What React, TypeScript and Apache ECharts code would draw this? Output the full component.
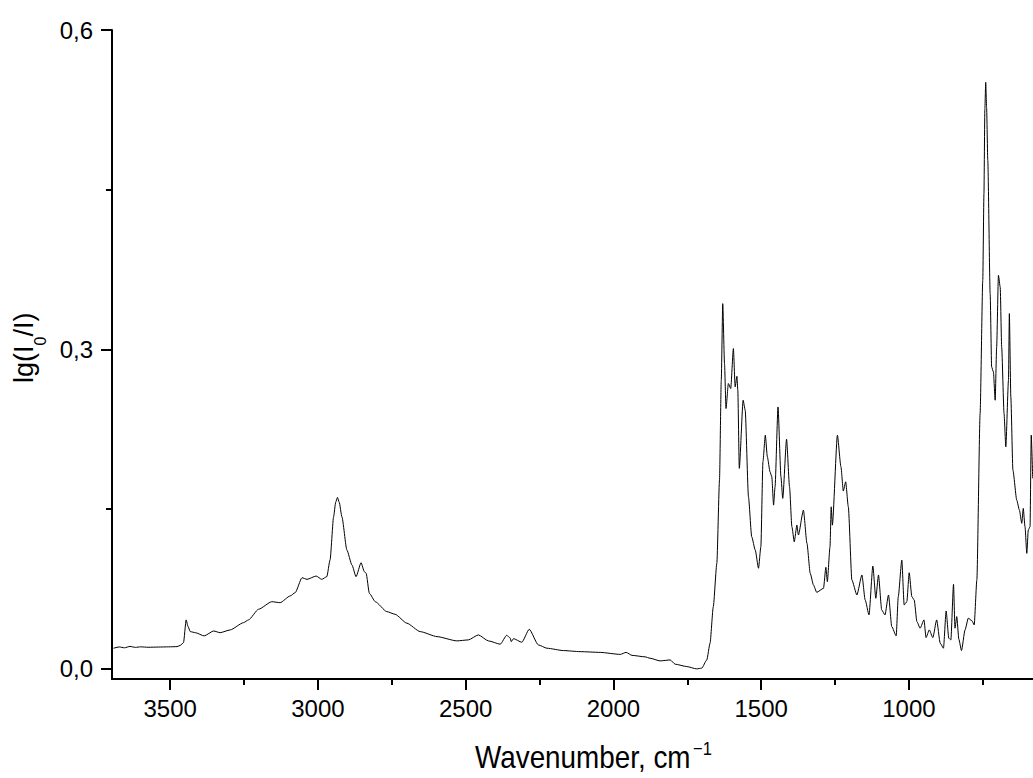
import React, { useEffect, useRef } from "react";
import * as echarts from "echarts";

// Wavenumber (cm^-1), descending
const wavenumbers = [
  3692, 3672, 3655, 3636, 3618, 3600, 3575, 3540, 3505, 3477, 3465, 3455, 3446, 3440, 3432,
  3415, 3385, 3353, 3331, 3297, 3252, 3235, 3201, 3156, 3128, 3094, 3077, 3054, 3037, 3006,
  2987, 2970, 2959, 2947, 2940, 2934, 2928, 2919, 2902, 2885, 2871, 2854, 2843, 2837, 2826, 2806, 2767,
  2739, 2699, 2654, 2597, 2530, 2491, 2457, 2423, 2383, 2361, 2349, 2346, 2338, 2310, 2285,
  2254, 2225, 2169, 2113, 2045, 1977, 1957, 1937, 1893, 1876, 1842, 1808, 1791, 1752, 1718,
  1701, 1684, 1673, 1662, 1650, 1641, 1635, 1630, 1624, 1619, 1611, 1603, 1594, 1588, 1582,
  1579, 1574, 1561, 1554, 1543, 1532, 1520, 1509, 1501, 1494, 1486, 1479, 1470, 1464, 1458,
  1453, 1443, 1433, 1427, 1414, 1404, 1396, 1388, 1379, 1374, 1357, 1345, 1334, 1323, 1312,
  1289, 1281, 1276, 1267, 1263, 1259, 1242, 1230, 1222, 1214, 1205, 1193, 1176, 1159, 1148,
  1135, 1122, 1112, 1103, 1092, 1081, 1069, 1058, 1043, 1036, 1024, 1016, 1007, 999, 990,
  982, 973, 962, 949, 942, 931, 919, 906, 894, 883, 874, 865, 858, 849, 844,
  838, 831, 822, 810, 799, 787, 779, 770, 759, 750, 746, 743, 740, 737, 733, 725, 720,
  714, 708, 703, 697, 691, 686, 678, 672, 663, 660, 655, 648, 635, 626, 618,
  613, 607, 601, 596, 590, 586, 581,
];

// lg(I0/I)
const absorbance = [
  0.0194, 0.0206, 0.0198, 0.0211, 0.0202, 0.0207, 0.0203, 0.0205, 0.0207, 0.0209, 0.0222, 0.0247, 0.046, 0.04, 0.035,
  0.034, 0.031, 0.0356, 0.034, 0.0366, 0.0434, 0.046, 0.056, 0.0631, 0.0622, 0.0685, 0.0716, 0.0856, 0.0841, 0.0872,
  0.0841, 0.0866, 0.1023, 0.1429, 0.1565, 0.161, 0.1565, 0.1429, 0.1116, 0.0976, 0.0866, 0.0997, 0.0913, 0.0898, 0.071, 0.0631, 0.0538,
  0.0513, 0.0429, 0.035, 0.0303, 0.0263, 0.0272, 0.0319, 0.0263, 0.0232, 0.0316, 0.0288, 0.0256, 0.0284, 0.025, 0.0372,
  0.0225, 0.0194, 0.0172, 0.0162, 0.0155, 0.0136, 0.0155, 0.0127, 0.0113, 0.01, 0.0075, 0.0084, 0.0044, 0.0022, 0.0,
  0.0007, 0.0084, 0.0241, 0.0584, 0.0991, 0.1773, 0.2711, 0.343, 0.2867, 0.2445, 0.268, 0.2633, 0.3008, 0.2648, 0.2748,
  0.2617, 0.1883, 0.2523, 0.2429, 0.1616, 0.1241, 0.1116, 0.0945, 0.1147, 0.1945, 0.2195, 0.1991, 0.1851, 0.1804, 0.1538,
  0.171, 0.246, 0.1804, 0.1601, 0.2157, 0.171, 0.1335, 0.1194, 0.1351, 0.1257, 0.1491, 0.1179, 0.0898, 0.0788, 0.0719,
  0.0757, 0.0954, 0.0819, 0.1147, 0.1522, 0.135, 0.2195, 0.1898, 0.167, 0.1757, 0.1522, 0.0835, 0.0694, 0.0882, 0.0647,
  0.0507, 0.0966, 0.0663, 0.0882, 0.0553, 0.0507, 0.0694, 0.0397, 0.031, 0.0678, 0.1022, 0.06, 0.0631, 0.0903, 0.0678,
  0.0647, 0.0444, 0.0382, 0.046, 0.0294, 0.0366, 0.0294, 0.046, 0.0241, 0.0194, 0.0544, 0.0288, 0.0272, 0.0794, 0.0382,
  0.0491, 0.0279, 0.0172, 0.0366, 0.0476, 0.0453, 0.0413, 0.0835, 0.2399, 0.3649, 0.4462, 0.525, 0.5509, 0.527, 0.4775, 0.3524, 0.2836,
  0.2789, 0.2523, 0.3023, 0.3696, 0.3586, 0.3023, 0.2399, 0.2085, 0.2711, 0.3337, 0.2554, 0.1867, 0.1585, 0.1491, 0.1367,
  0.1507, 0.1335, 0.1085, 0.1304, 0.1335, 0.2195, 0.1789,
];

const xMajorTicks = [3500, 3000, 2500, 2000, 1500, 1000];
const xMinorTicks = [3250, 2750, 2250, 1750, 1250, 750];
const yMajorTicks = [0, 0.3, 0.6];
const yMinorTicks = [0.15, 0.45];

const X_MIN = 580;
const X_MAX = 3697;
const Y_MIN = -0.0095;
const Y_MAX = 0.6;

const FONT = "'Liberation Sans', Arial, Helvetica, sans-serif";

export default function App() {
  const ref = useRef<HTMLDivElement>(null);

  useEffect(() => {
    if (!ref.current) return;
    const chart = echarts.init(ref.current, null, { renderer: "svg" });
    const data = wavenumbers.map((w, i) => [w, absorbance[i]]);
    const black = "#000";

    chart.setOption({
      animation: false,
      grid: { left: 112, right: 0, top: 30, height: 649, outerBoundsMode: "none", containLabel: false },
      xAxis: [
        {
          type: "value",
          min: X_MIN,
          max: X_MAX,
          inverse: true,
          position: "bottom",
          axisLine: { show: true, onZero: false, lineStyle: { color: black, width: 2 } },
          axisTick: { show: true, customValues: xMajorTicks, length: 11, lineStyle: { color: black, width: 2 } },
          axisLabel: {
            show: true,
            customValues: xMajorTicks,
            margin: 17,
            color: black,
            fontSize: 24,
            fontFamily: FONT,
            formatter: (v: number) => String(v),
          },
          splitLine: { show: false },
        },
        {
          type: "value",
          min: X_MIN,
          max: X_MAX,
          inverse: true,
          position: "bottom",
          axisLine: { show: false, onZero: false },
          axisTick: { show: true, customValues: xMinorTicks, length: 6, lineStyle: { color: black, width: 2 } },
          axisLabel: { show: false },
          splitLine: { show: false },
        },
      ],
      yAxis: [
        {
          type: "value",
          min: Y_MIN,
          max: Y_MAX,
          position: "left",
          axisLine: { show: true, onZero: false, lineStyle: { color: black, width: 2 } },
          axisTick: { show: true, customValues: yMajorTicks, length: 11, lineStyle: { color: black, width: 2 } },
          axisLabel: {
            show: true,
            customValues: yMajorTicks,
            margin: 19,
            color: black,
            fontSize: 24,
            fontFamily: FONT,
            formatter: (v: number) => v.toFixed(1).replace(".", ","),
          },
          splitLine: { show: false },
        },
        {
          type: "value",
          min: Y_MIN,
          max: Y_MAX,
          position: "left",
          axisLine: { show: false, onZero: false },
          axisTick: { show: true, customValues: yMinorTicks, length: 6, lineStyle: { color: black, width: 2 } },
          axisLabel: { show: false },
          splitLine: { show: false },
        },
      ],
      series: [
        {
          type: "line",
          xAxisIndex: 0,
          yAxisIndex: 0,
          data,
          showSymbol: false,
          symbol: "none",
          silent: true,
          smooth: 0.2,
          smoothMonotone: "x",
          lineStyle: { color: black, width: 1 },
        },
      ],
      graphic: [
        {
          type: "text",
          x: 475,
          y: 757,
          scaleX: 0.87,
          style: {
            text: "Wavenumber, cm",
            fill: black,
            fontSize: 32,
            fontFamily: FONT,
            align: "left",
            verticalAlign: "middle",
          },
        },
        {
          type: "text",
          x: 693,
          y: 749,
          scaleX: 0.87,
          style: {
            text: "\u22121",
            fill: black,
            fontSize: 19,
            fontFamily: FONT,
            align: "left",
            verticalAlign: "middle",
          },
        },
        {
          type: "group",
          x: 23.5,
          y: 383,
          rotation: Math.PI / 2,
          children: [
            {
              type: "text",
              x: 0,
              y: 0,
              style: { text: "lg(I", fill: black, fontSize: 27, fontFamily: FONT, align: "left", verticalAlign: "middle" },
            },
            {
              type: "text",
              x: 37.5,
              y: 17,
              style: { text: "0", fill: black, fontSize: 16, fontFamily: FONT, align: "left", verticalAlign: "middle" },
            },
            {
              type: "text",
              x: 46.4,
              y: 0,
              style: { text: "/I)", fill: black, fontSize: 27, fontFamily: FONT, align: "left", verticalAlign: "middle" },
            },
          ],
        },
      ],
    });

    return () => chart.dispose();
  }, []);

  return (
    <div
      ref={ref}
      style={{ position: "absolute", left: 0, top: 0, width: 1033, height: 778, background: "#fff" }}
    />
  );
}
